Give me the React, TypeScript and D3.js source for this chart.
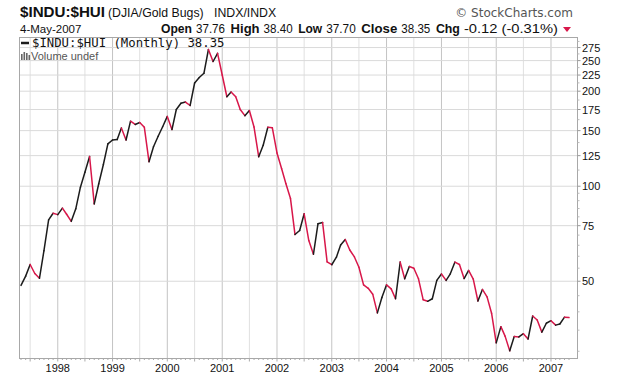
import React from "react";
import * as d3 from "d3";

// ---- data ----
const START_MONTH = "1997-05-01";
const MONTHLY_CLOSE = [
  48.5, 51.9, 56.5, 52.9, 51.1, 62.5, 78.2, 82.1, 81.3, 85.2,
  81.5, 77.4, 84.8, 99.3, 110.8, 124.2, 87.9, 101.8, 117.2, 136.2,
  140.1, 140.5, 152.9, 140.1, 160.7, 156.9, 159.2, 153.7, 119.6, 133.4,
  144.0, 154.3, 166.4, 151.2, 175.0, 183.2, 184.8, 180.2, 212.3, 221.0,
  227.9, 271.1, 248.4, 263.7, 225.1, 192.1, 198.9, 192.1, 175.0, 167.3,
  173.7, 154.0, 124.0, 134.8, 153.7, 153.1, 127.5, 113.6, 102.0, 91.4,
  70.3, 72.4, 81.8, 67.3, 60.9, 76.0, 76.7, 57.6, 56.4, 59.6,
  65.1, 67.8, 62.8, 59.7, 55.4, 48.7, 47.5, 45.5, 39.7, 44.4,
  48.7, 47.3, 44.0, 57.5, 50.9, 55.7, 55.0, 50.9, 43.7, 43.2,
  44.0, 50.3, 52.7, 50.3, 52.8, 57.5, 56.5, 51.0, 54.1, 50.8,
  43.3, 47.1, 44.6, 39.6, 31.9, 35.9, 33.5, 30.1, 33.4, 33.3,
  34.1, 32.8, 38.8, 37.7, 34.5, 36.8, 37.5, 36.3, 36.6, 38.47,
  38.35,
];
const Y_TICKS = [50, 75, 100, 125, 150, 175, 200, 225, 250, 275];
const Y_MINOR = [30, 35, 40, 45, 55, 60, 65, 70, 80, 85, 90, 95, 112.5, 137.5, 162.5, 187.5, 212.5, 237.5, 262.5, 287.5];
const YEAR_LABELS = ["1998", "1999", "2000", "2001", "2002", "2003", "2004", "2005", "2006", "2007"];
const Y_DOMAIN = [28.46, 295.9];
const X_DOMAIN = ["1997-05-01", "2007-05-01"];
const TITLE = "$INDU:$HUI";
const SUBTITLE = "(DJIA/Gold Bugs)";
const EXCHANGE = "INDX/INDX";
const DATE_LABEL = "4-May-2007";
const STAT_LABELS = ["Open", "High", "Low", "Close", "Chg"];
const STAT_VALUES = ["37.76", "38.40", "37.70", "38.35", "-0.12 (-0.31%)"];
const LEGEND = "$INDU:$HUI (Monthly) 38.35";

// ---- layout ----
const W = 620, H = 379;
const L = 19.5, R = 577.5, T = 37.5, B = 358.5;
const RED = "#d8174a";
const BLACK = "#1c1c1c";
const STAT_START = 161;
const LABEL_W = [31, 29, 24, 36, 24];
const VALUE_W = [29, 29, 29.5, 29, 94];
const GAP_IN = 4;
const GAP_OUT = 5.6;

export default function App() {
  const parse = d3.timeParse("%Y-%m-%d");
  const start = parse(START_MONTH)!;
  const dates = MONTHLY_CLOSE.map((_, i) => d3.timeMonth.offset(start, i));
  const x = d3.scaleTime().domain(X_DOMAIN.map((s) => parse(s)!)).range([21, 569]);
  const y = d3.scaleLog().domain(Y_DOMAIN).range([B, T]);

  const years = YEAR_LABELS.map((s) => parse(s + "-01-01")!);
  const halfYears = d3.timeMonth.range(parse("1997-07-01")!, parse("2007-06-01")!, 6);
  const months = d3.timeMonth.range(parse("1997-05-01")!, parse("2007-06-01")!, 1);

  const line = d3.line<[Date, number]>().x((d) => x(d[0])).y((d) => y(d[1]));
  const segs = MONTHLY_CLOSE.slice(1).map((v, i) => {
    const a: [Date, number] = [dates[i], MONTHLY_CLOSE[i]];
    const b: [Date, number] = [dates[i + 1], v];
    return { d: line([a, b])!, up: v > MONTHLY_CLOSE[i] };
  });

  // sequential layout of stat pieces
  const statPieces: { lx: number; vx: number }[] = [];
  let cx = STAT_START;
  STAT_LABELS.forEach((_, i) => {
    const lx = cx;
    const vx = lx + LABEL_W[i] + GAP_IN;
    cx = vx + VALUE_W[i] + GAP_OUT;
    statPieces.push({ lx, vx });
  });

  return (
    <div style={{ position: "absolute", left: 0, top: 0 }}>
      <svg width={W} height={H} style={{ display: "block", background: "#fff", fontFamily: "Liberation Sans, Arial, sans-serif" }}>
        {/* header */}
        <text x={20} y={17} fontSize={15} fontWeight="bold" fill="#111" textLength={85} lengthAdjust="spacingAndGlyphs">{TITLE}</text>
        <text x={108} y={17} fontSize={12.3} fill="#111">{SUBTITLE}</text>
        <text x={214} y={17} fontSize={12.3} fill="#111">{EXCHANGE}</text>
        <text x={573} y={17} fontSize={12} fill="#555" textAnchor="end" fontFamily="DejaVu Sans, sans-serif">© StockCharts.com</text>
        <text x={20} y={33} fontSize={11.5} fill="#111">{DATE_LABEL}</text>
        {STAT_LABELS.map((s, i) => (
          <g key={s}>
            <text x={statPieces[i].lx} y={33} fontSize={13} fontWeight="bold" fill="#111"
              textLength={LABEL_W[i]} lengthAdjust="spacingAndGlyphs">{s}</text>
            <text x={statPieces[i].vx} y={33} fontSize={12} fill="#111"
              textLength={VALUE_W[i]} lengthAdjust="spacingAndGlyphs">{STAT_VALUES[i]}</text>
          </g>
        ))}
        <path d="M563,27 L571,27 L567,32 Z" fill={RED} />

        {/* grid */}
        {halfYears.map((d, i) => (
          <line key={"v" + i} x1={x(d)} x2={x(d)} y1={T} y2={B}
            stroke={d.getMonth() === 0 ? "#c4c4c4" : "#e0e0e0"} strokeWidth={1} />
        ))}
        {Y_TICKS.map((v) => (
          <line key={"h" + v} x1={L} x2={R} y1={y(v)} y2={y(v)} stroke="#dadada" strokeWidth={1} />
        ))}

        {/* frame */}
        <rect x={L} y={T} width={R - L} height={B - T} fill="none" stroke="#a8a8a8" strokeWidth={1} />

        {/* x ticks */}
        {months.map((d, i) => (
          <line key={"mt" + i} x1={x(d)} x2={x(d)} y1={B} y2={B + (d.getMonth() % 6 === 0 ? 3 : 1.5)} stroke="#aaa" />
        ))}
        {years.map((d, i) => (
          <text key={"yl" + i} x={x(d)} y={372} fontSize={11} textAnchor="middle" fill="#111">{YEAR_LABELS[i]}</text>
        ))}

        {/* y axis */}
        {Y_TICKS.map((v) => (
          <g key={"yt" + v}>
            <line x1={R} x2={R + 3} y1={y(v)} y2={y(v)} stroke="#999" />
            <text x={582} y={y(v) + 4} fontSize={11} fill="#111">{v}</text>
          </g>
        ))}
        {Y_MINOR.map((v) => (
          <line key={"ym" + v} x1={R} x2={R + 2} y1={y(v)} y2={y(v)} stroke="#bbb" />
        ))}

        {/* series */}
        {segs.map((s, i) => (
          <path key={"s" + i} d={s.d} fill="none" stroke={s.up ? BLACK : RED} strokeWidth={1.5} strokeLinecap="round" />
        ))}

        {/* legend */}
        <line x1={21} x2={29} y1={43} y2={43} stroke={BLACK} strokeWidth={2.5} />
        <text x={32} y={47} fontSize={12.3} fontFamily="DejaVu Sans Mono, monospace" fill="#111">{LEGEND}</text>
        <g fill="#666">
          <rect x={21} y={54} width={1.6} height={6} />
          <rect x={23.5} y={52} width={1.6} height={8} />
          <rect x={26} y={53} width={1.6} height={7} />
          <rect x={28.5} y={55} width={1.6} height={5} />
        </g>
        <text x={31} y={60} fontSize={11} fill="#555">Volume undef</text>
      </svg>
    </div>
  );
}
